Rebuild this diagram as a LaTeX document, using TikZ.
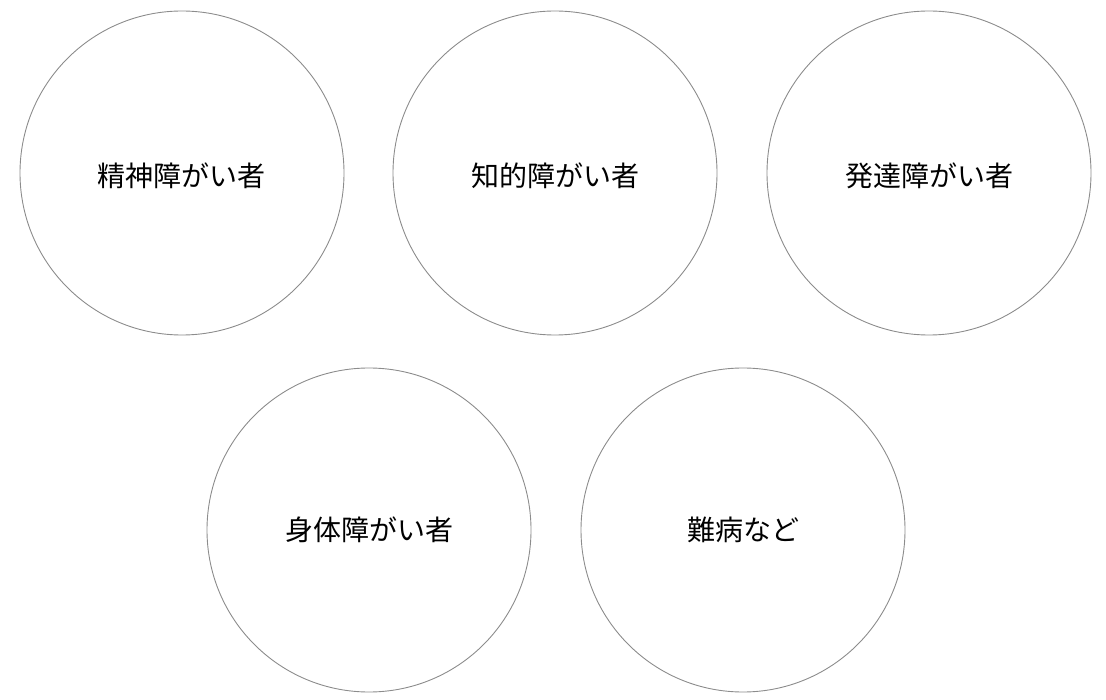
\documentclass[tikz,border=0pt]{standalone}
\usepackage{fontspec}
\newfontfamily\cjk{Noto Sans CJK JP}
\begin{document}
\begin{tikzpicture}[x=1pt,y=-1pt,
  ring/.style={circle,draw=black!45,line width=0.9pt,minimum size=324pt,inner sep=0pt},
  lbl/.style={font=\cjk\fontsize{28}{32}\selectfont,text=black}]
\useasboundingbox (0,0) rectangle (1106,700);
\node[ring] (c1) at (182,173) {};
\node[ring] (c2) at (555,173) {};
\node[ring] (c3) at (929,173) {};
\node[ring] (c4) at (369,530) {};
\node[ring] (c5) at (743,530) {};
\node[lbl] (t1) at (181,176) {精神障がい者};
\node[lbl] (t2) at (555,176) {知的障がい者};
\node[lbl] (t3) at (929,176) {発達障がい者};
\node[lbl] (t4) at (369,530) {身体障がい者};
\node[lbl] (t5) at (743,530) {難病など};
\end{tikzpicture}
\end{document}
